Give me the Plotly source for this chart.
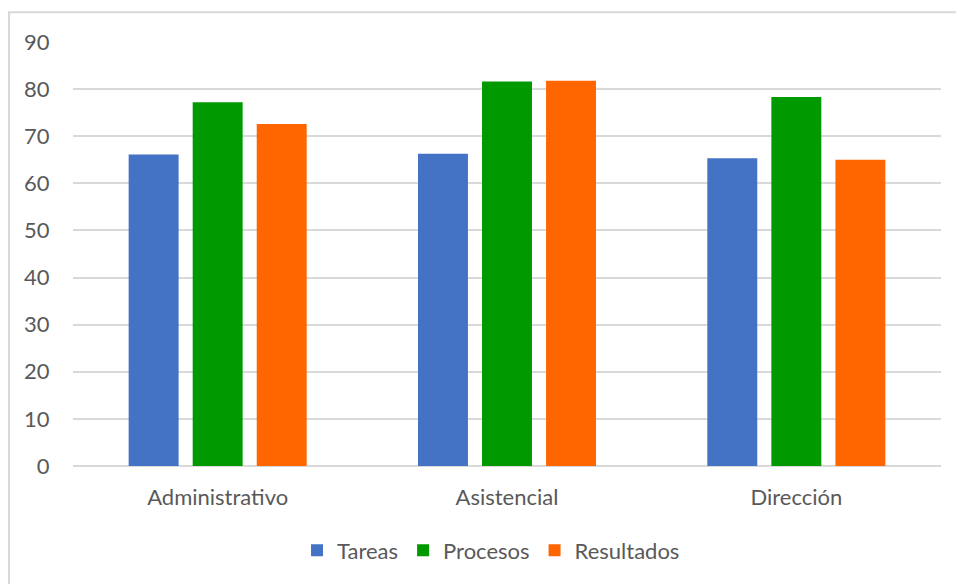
import plotly.graph_objects as go

categories = ["Administrativo", "Asistencial", "Dirección"]
tareas = [66.1, 66.3, 65.3]
procesos = [77.2, 81.6, 78.3]
resultados = [72.6, 81.8, 65.0]
y_ticks = [0, 10, 20, 30, 40, 50, 60, 70, 80, 90]

series = [
    ("Tareas", tareas, "#4472C4"),
    ("Procesos", procesos, "#009900"),
    ("Resultados", resultados, "#FF6600"),
]

FONT = "Lato, 'Open Sans', sans-serif"
GRAY = "#595959"
GRID = "#d9d9d9"
SIZE = 22

fig = go.Figure()
for name, vals, color in series:
    fig.add_trace(go.Bar(
        x=categories, y=vals, name=name,
        marker=dict(color=color, line=dict(width=0)),
    ))

fig.update_layout(
    width=956, height=584,
    margin=dict(l=73, r=15, t=42, b=118),
    paper_bgcolor="white", plot_bgcolor="white",
    barmode="group", bargap=0.336, bargroupgap=0.22,
    font=dict(family=FONT, size=SIZE, color=GRAY),
    showlegend=True,
    legend=dict(
        orientation="h", x=0.4816, xanchor="center", y=-0.199, yanchor="middle",
        font=dict(family=FONT, size=SIZE, color=GRAY),
        itemsizing="constant", traceorder="normal", itemwidth=30,
        tracegroupgap=0,
    ),
    xaxis=dict(
        showgrid=False, showline=False, zeroline=False,
        ticks="outside", ticklen=12, tickcolor="rgba(0,0,0,0)",
        tickfont=dict(family=FONT, size=SIZE, color=GRAY),
    ),
    yaxis=dict(
        range=[0, 90], tickvals=y_ticks,
        showgrid=True, gridcolor=GRID, gridwidth=2,
        zeroline=True, zerolinecolor=GRID, zerolinewidth=2,
        showline=False,
        ticks="outside", ticklen=18, tickcolor="rgba(0,0,0,0)",
        tickfont=dict(family=FONT, size=SIZE, color=GRAY),
    ),
    shapes=[dict(
        type="rect", xref="paper", yref="paper",
        x0=-0.0737, x1=1.2, y0=-0.6, y1=1.07,
        line=dict(color=GRID, width=2), fillcolor="rgba(0,0,0,0)",
        layer="below",
    )],
)

fig.write_html("out.html")
